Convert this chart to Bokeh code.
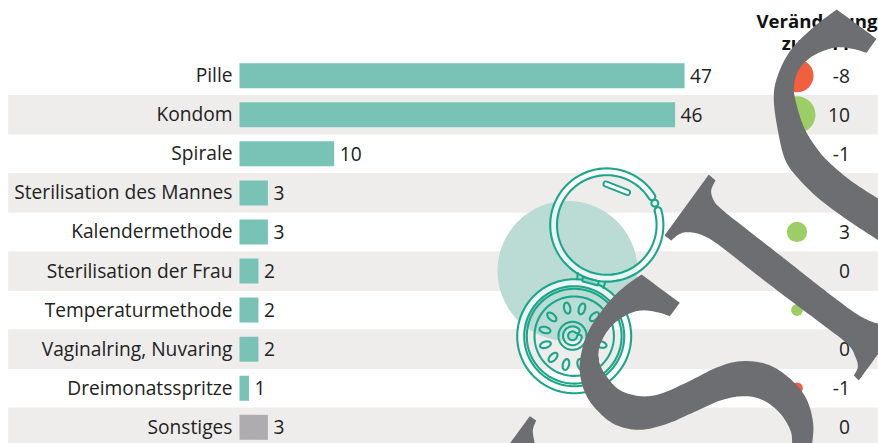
import numpy as np
from bokeh.plotting import figure
from bokeh.models import Range1d, ColumnDataSource
from bokeh.core.properties import value
from bokeh.embed import file_html
from bokeh.resources import INLINE

categories = ["Pille", "Kondom", "Spirale", "Sterilisation des Mannes", "Kalendermethode",
              "Sterilisation der Frau", "Temperaturmethode", "Vaginalring, Nuvaring",
              "Dreimonatsspritze", "Sonstiges"]
shares = [47, 46, 10, 3, 3, 2, 2, 2, 1, 3]
changes = [-8, 10, -1, 0, 3, 0, 1, 0, -1, 0]
change_labels = ["-8", "10", "-1", "0", "3", "0", "", "0", "-1", "0"]
header_lines = ["Veränderung", "zu 2011"]

BAR = "#78c3b5"; GREY = "#aeacaf"; STRIPE = "#efedec"; RED = "#f0603f"; GREEN = "#9dcd65"
INK = "#222222"; TEAL = "#1aa68a"; DISC = "#badcd5"; MARK = "#6d6e71"; FONT = value("Open Sans")

W, H = 878, 443
XL, XR = -239 / 9.47, (878 - 239) / 9.47
YT, YB = -75.2 / 39.07, (443 - 75.2) / 39.07
p = figure(width=W, height=H, output_backend="svg", toolbar_location=None,
           x_range=Range1d(XL, XR), y_range=Range1d(YB, YT),
           min_border=0, outline_line_color=None)
p.xaxis.visible = False; p.yaxis.visible = False; p.grid.visible = False
p.background_fill_color = "white"; p.border_fill_color = "white"
# a page-pixel scale for the furniture (icon, watermark, right-hand column)
p.extra_x_ranges["px"] = Range1d(0, 878)
p.extra_y_ranges["px"] = Range1d(443, 0)
PX = dict(x_range_name="px", y_range_name="px")

rows = list(range(len(categories)))
stripe_rows = rows[1::2]
p.hbar(y=stripe_rows, left=XL + 7.7 / 9.47, right=XR - 0.7 / 9.47, height=1.016, color=STRIPE, line_color=None)


def arc(cx, cy, r, a0, a1, n=90):
    t = np.radians(np.linspace(a0, a1, n))
    return cx + r * np.cos(t), cy + r * np.sin(t)


def band(cx, cy, r1, r2, a0, a1, **kw):
    ox, oy = arc(cx, cy, r1, a0, a1)
    ix, iy = arc(cx, cy, r2, a1, a0)
    mid = (r1 + r2) / 2; cap = (r1 - r2) / 2
    ex, ey = mid * np.cos(np.radians(a1)) + cx, mid * np.sin(np.radians(a1)) + cy
    sx, sy = mid * np.cos(np.radians(a0)) + cx, mid * np.sin(np.radians(a0)) + cy
    c1x, c1y = arc(ex, ey, cap, a1, a1 + 180, 12)
    c2x, c2y = arc(sx, sy, cap, a0 + 180, a0 + 360, 12)
    p.patch(np.r_[ox, c1x, ix, c2x], np.r_[oy, c1y, iy, c2y], line_join="round", **PX, **kw)


def ring(cx, cy, r, width=2.1):
    x, y = arc(cx, cy, r, 0, 360, 160)
    p.line(x, y, line_color=TEAL, line_width=width, **PX)


def annulus(cx, cy, r1, r2):
    ox, oy = arc(cx, cy, r1, 0, 360, 160)
    ix, iy = arc(cx, cy, r2, 360, 0, 160)
    p.multi_polygons(xs=[[[list(ox), list(ix)]]], ys=[[[list(oy), list(iy)]]],
                     fill_color="white", fill_alpha=0.72, line_color=None, **PX)


# icon: backing disc
x, y = arc(567, 270.4, 70, 0, 360, 200)
p.patch(x, y, fill_color=DISC, line_color=None, **PX)

# upper lid
band(606.3, 224.5, 56.6, 49.8, -15.7, 328, fill_color="white", fill_alpha=0.72, line_color=TEAL, line_width=2.1)
ring(654.3, 202.7, 3.4)
p.line([605.5, 627], [183.5, 192], line_color=TEAL, line_width=7, line_cap="round", **PX)
p.line([605.5, 627], [183.5, 192], line_color="white", line_width=3.2, line_cap="round", **PX)

# lower pack
annulus(573.7, 335.7, 57, 50)
for r in (57, 50, 47.4, 39.7):
    ring(573.7, 335.7, r)
ring(572, 335.3, 14)
band(572, 335.3, 9.4, 4.4, 12, 312, fill_color="white", fill_alpha=0.3, line_color=TEAL, line_width=2.1)
for k in range(12):
    t = np.radians(-102 + 29.5 * k)
    s = np.linspace(0, 2 * np.pi, 40)
    u, v = 5.6 * np.cos(s), 3.1 * np.sin(s)
    p.line(572.7 + 29 * np.cos(t) + u * np.cos(t) - v * np.sin(t),
           336 + 29 * np.sin(t) + u * np.sin(t) + v * np.cos(t),
           line_color=TEAL, line_width=2.1, **PX)
# hinge
p.line([577.3, 576.7], [271.7, 279], line_color=TEAL, line_width=2.1, **PX)
p.line([605, 602.7], [280.7, 288.3], line_color=TEAL, line_width=2.1, **PX)
p.patch([582.3, 598.3, 597.3, 581.7], [276.7, 280.7, 285, 280.7], fill_color="white", fill_alpha=0.5,
        line_color=TEAL, line_width=2.1, **PX)

# bars and left labels
colors = [BAR] * (len(categories) - 1) + [GREY]
src = ColumnDataSource(dict(y=rows, v=shares, cat=categories, c=colors, t=[str(s) for s in shares]))
p.hbar(y="y", left=0, right="v", height=0.64, fill_color="c", line_color=None, source=src)
p.text(x=0, y="y", text="cat", source=src, text_align="right", text_baseline="middle", x_offset=-7,
       y_offset=-1, text_font=FONT, text_font_size="19.2px", text_color=INK)
p.text(x="v", y="y", text="t", source=src, text_align="left", text_baseline="middle", x_offset=5.5,
       y_offset=0, text_font=FONT, text_font_size="19.2px", text_color=INK)

# change column
chg_src = ColumnDataSource(dict(y=rows, x=[796.5] * len(rows), tx=[849.5] * len(rows),
                                s=[2 * 5.85 * abs(c) ** 0.5 for c in changes],
                                c=[RED if c < 0 else GREEN for c in changes],
                                t=change_labels))
p.scatter(x="x", y="y", size="s", fill_color="c", line_color=None, source=chg_src,
          x_range_name="px")
p.text(x="tx", y="y", text="t", source=chg_src, text_align="right", text_baseline="middle",
       y_offset=0, x_range_name="px", text_font=FONT, text_font_size="19.2px", text_color=INK)
p.text(x=[816.5, 815.5], y=[19.5, 42], text=header_lines, text_align="center", text_baseline="middle",
       text_font=FONT, text_font_style="bold", text_font_size="18.6px", text_color="#111111", **PX)


def smooth(points, corners):
    """Catmull-Rom through the points, keeping the listed indices sharp."""
    pts = np.array(points, float)
    n = len(pts)
    out = []
    for i in range(n):
        j = (i + 1) % n
        a = pts[i - 1] if i not in corners else pts[i]
        b, c = pts[i], pts[j]
        d = pts[(j + 1) % n] if j not in corners else pts[j]
        for u in np.linspace(0, 1, 10, endpoint=False):
            out.append(0.5 * (2 * b + (c - a) * u + (2 * a - 5 * b + 4 * c - d) * u ** 2
                              + (3 * b - a - 3 * c + d) * u ** 3))
    out = np.array(out)
    return list(out[:, 0]), list(out[:, 1])


# watermark shapes
s1 = [(836.3, 9), (876, 38.3), (866, 52.3), (853, 48.5), (838, 46.7), (824, 50), (810, 57), (798.5, 69),
      (793.3, 86.7), (796.7, 106.7), (804, 128), (815, 146), (826.7, 160), (850, 180), (878, 198.3), (878, 240),
      (843, 216.7), (816.7, 196.7), (796.7, 176.7), (785, 160), (778.3, 135), (773.3, 100), (776.7, 76.7),
      (790, 50), (813, 26.7)]
s2 = [(708.3, 174), (715, 180), (710.7, 190), (713.3, 200), (721.7, 209.3), (750, 231.7), (783.3, 257.7),
      (816.7, 284), (850, 309.3), (866.7, 319.3), (878, 323.3), (878, 353), (858.3, 380), (853.3, 375),
      (857.3, 366.7), (855, 356.7), (846.7, 343.3), (816.7, 320), (783.3, 295), (750, 269.3), (716.7, 243.3),
      (700, 234), (686.7, 231.7), (678.3, 234), (670.7, 240), (664, 235)]
s3 = [(641, 274), (679.3, 302.3), (669.3, 315.7), (656.7, 311.7), (640, 310), (625, 315), (610, 326.7), (600, 343.3),
      (598.3, 360), (606.7, 376.7), (620, 390), (640, 395.7), (660, 393.3), (686.7, 381.7), (713.3, 368.3),
      (733.3, 361.7), (753.3, 361), (773.3, 366.7), (793.3, 381.7), (806.7, 400), (812.7, 423.3), (811.7, 443),
      (791.7, 443), (790, 430), (780, 413.3), (763.3, 400), (743.3, 395.7), (720, 400), (693.3, 411.7),
      (666.7, 423.3), (640, 429.3), (616.7, 425), (600, 413.3), (586.7, 396.7), (580, 376.7), (580, 356.7),
      (588.3, 330), (606.7, 303.3), (623.3, 286.7)]
s4 = [(529.3, 415.7), (535.7, 420), (532.3, 430), (534.3, 443), (509.3, 443)]
sharp = [{0, 1, 2, 14, 15}, {0, 1, 10, 11, 12, 13, 24, 25}, {0, 1, 2, 21, 22}, {0, 1, 3, 4}]
xs, ys = [], []
for shape, corner in zip([s1, s2, s3, s4], sharp):
    a, b = smooth(shape, corner)
    xs.append(a); ys.append(b)
p.patches(xs, ys, fill_color=MARK, line_color=None, **PX)

html = file_html(p, INLINE)
html = html.replace("</head>", "<style>html,body{overflow:hidden}</style></head>", 1)
open("out.html", "w").write(html)
